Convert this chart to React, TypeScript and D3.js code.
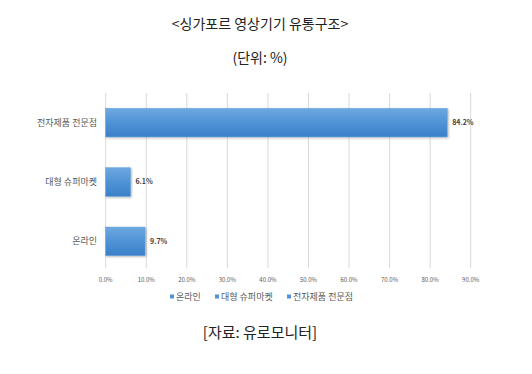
import React from "react";
import * as d3 from "d3";

const categories = ["전자제품 전문점", "대형 슈퍼마켓", "온라인"];
const values = [84.2, 6.1, 9.7];
const xTicks = [0, 10, 20, 30, 40, 50, 60, 70, 80, 90];
const legendItems = ["온라인", "대형 슈퍼마켓", "전자제품 전문점"];
const title = "<싱가포르 영상기기 유통구조>";
const unit = "(단위: %)";
const source = "[자료: 유로모니터]";

const W = 532;
const H = 374;
const FONT = "'Noto Sans CJK KR', 'Noto Sans', sans-serif";

export default function App() {
  const x = d3.scaleLinear().domain([0, 90]).range([105.7, 470.7]);
  const y = d3.scaleBand().domain(categories).range([93, 271]).paddingInner(0.52).paddingOuter(0.26);
  const legendX = [170, 215, 287];

  return (
    <svg width={W} height={H} style={{ position: "absolute", left: 0, top: 0 }}>
      <defs>
        <linearGradient id="barGrad" x1="0" y1="0" x2="0" y2="1">
          <stop offset="0" stopColor="#6ea8e0" />
          <stop offset="0.5" stopColor="#4f93d6" />
          <stop offset="1" stopColor="#3b80c9" />
        </linearGradient>
        <filter id="shadow" x="-5%" y="-20%" width="115%" height="150%">
          <feDropShadow dx="1" dy="1" stdDeviation="0.8" floodColor="#000" floodOpacity="0.3" />
        </filter>
      </defs>
      <rect width={W} height={H} fill="#fff" />
      <text x={260} y={29} textAnchor="middle" fontFamily={FONT} fontSize={14} fill="#222">{title}</text>
      <text x={260} y={63} textAnchor="middle" fontFamily={FONT} fontSize={14} fill="#222">{unit}</text>

      {xTicks.map((t) => (
        <g key={t}>
          <line x1={x(t)} x2={x(t)} y1={93} y2={268} stroke="#d9d9d9" strokeWidth={1} />
          <text x={x(t)} y={282} textAnchor="middle" fontFamily={FONT} fontSize={6} fill="#595959">
            {t.toFixed(1)}%
          </text>
        </g>
      ))}

      {categories.map((c, i) => {
        const by = y(c)!;
        const bh = y.bandwidth();
        return (
          <g key={c}>
            <rect x={x(0)} y={by} width={x(values[i]) - x(0)} height={bh} fill="url(#barGrad)" stroke="#5a9ad6" strokeWidth={0.5} filter="url(#shadow)" />
            <text x={97} y={by + bh / 2} dy="0.35em" textAnchor="end" fontFamily={FONT} fontSize={9} fill="#595959">{c}</text>
            <text x={x(values[i]) + 5} y={by + bh / 2} dy="0.35em" fontFamily={FONT} fontSize={7} fontWeight={600} fill="#404040">
              {values[i].toFixed(1)}%
            </text>
          </g>
        );
      })}

      {legendItems.map((l, i) => (
        <g key={l}>
          <rect x={legendX[i]} y={294.5} width={4} height={4} fill="#4f93d6" />
          <text x={legendX[i] + 6} y={297} dy="0.35em" fontFamily={FONT} fontSize={9} fill="#595959">{l}</text>
        </g>
      ))}

      <text x={260} y={338} textAnchor="middle" fontFamily={FONT} fontSize={15} fill="#222">{source}</text>
    </svg>
  );
}
